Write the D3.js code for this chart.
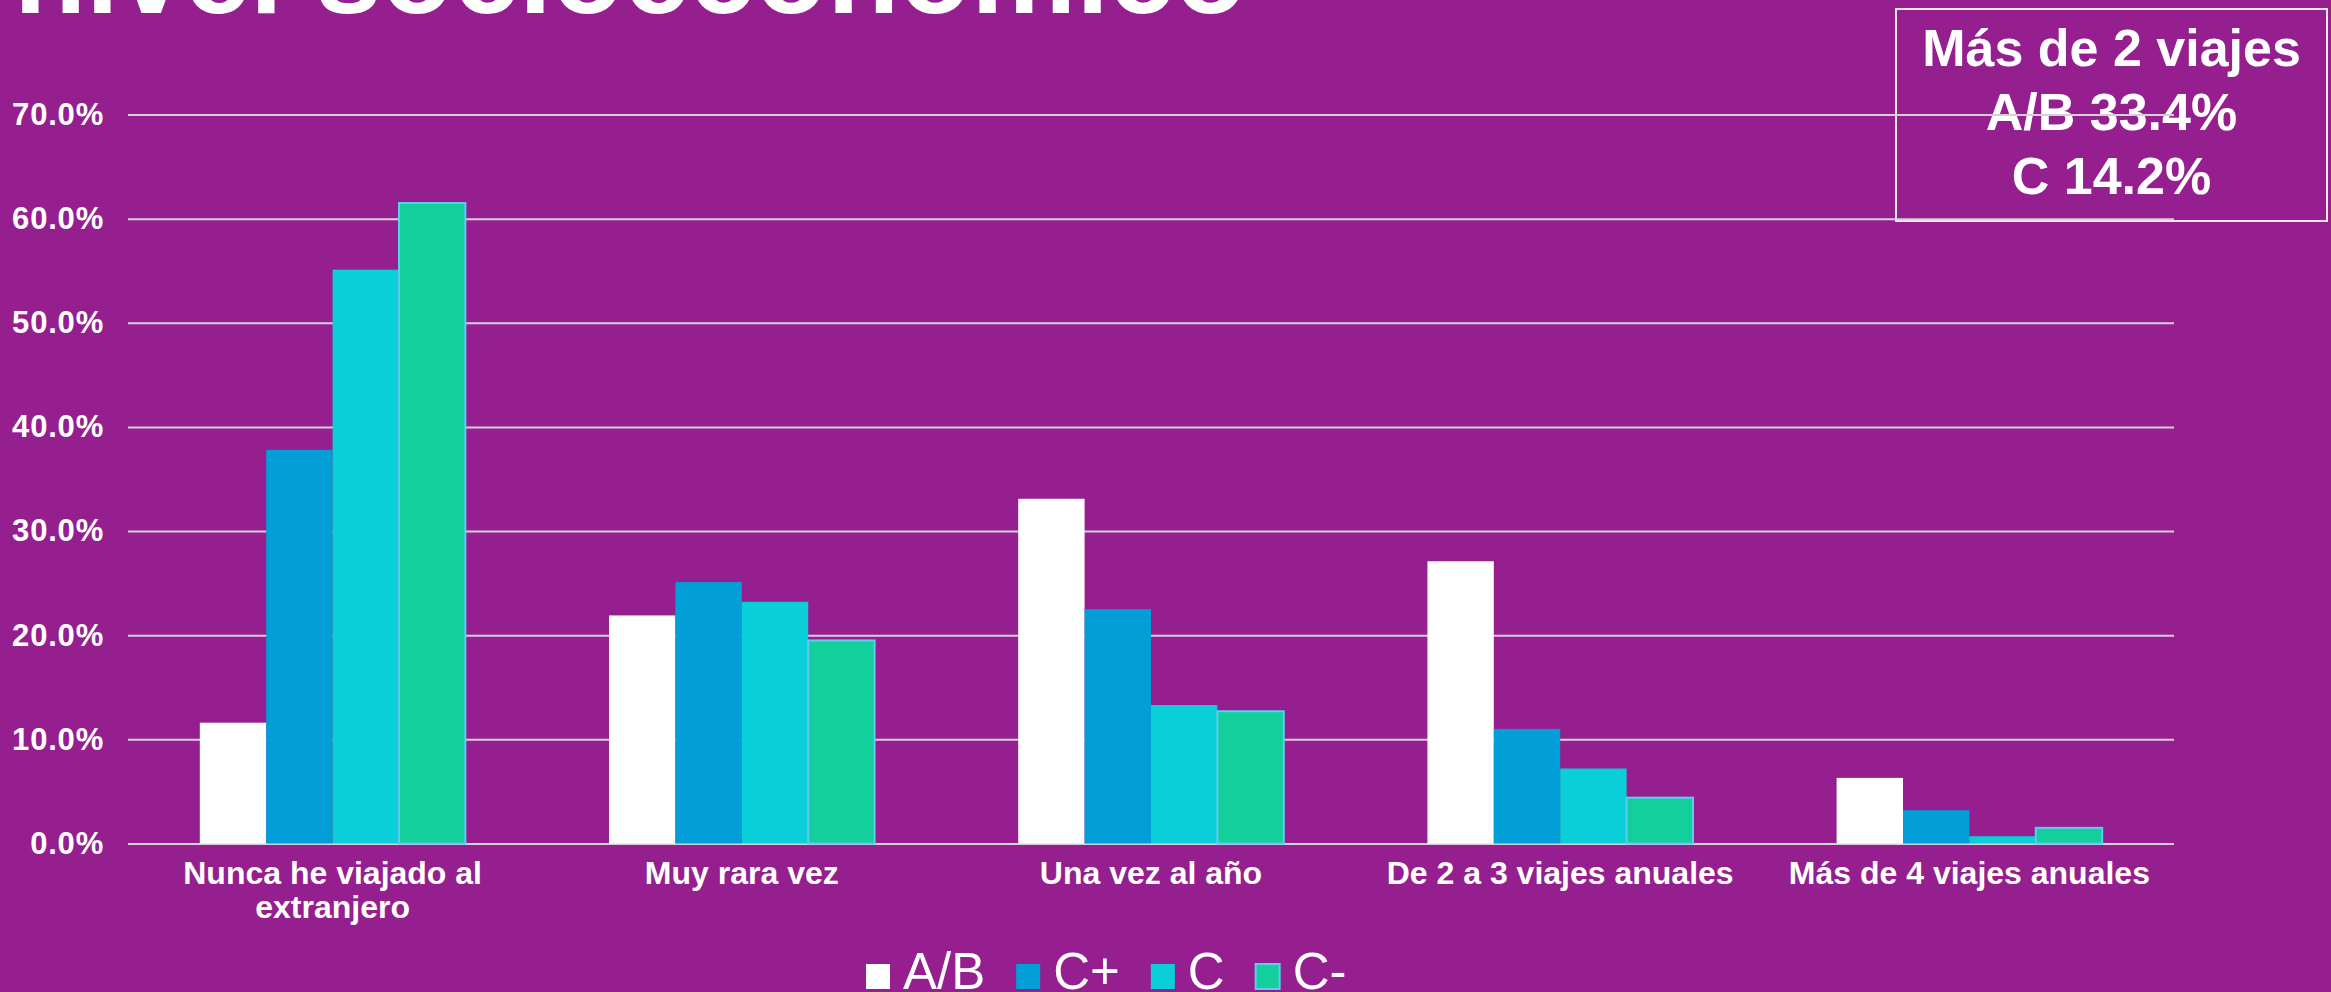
<!DOCTYPE html>
<html>
<head>
<meta charset="utf-8">
<script src="https://cdn.jsdelivr.net/npm/d3@7"></script>
<style>
  body { margin: 0; background: #951f8f; overflow: hidden; }
  svg { display: block; font-family: "Liberation Sans", Arial, sans-serif; }
</style>
</head>
<body>
<svg></svg>
<script>
var width = 2331;
var height = 992;

// chart data (percent)
var title = "nivel socioeconómico";
var categories = ["Nunca he viajado al\nextranjero", "Muy rara vez", "Una vez al año", "De 2 a 3 viajes anuales", "Más de 4 viajes anuales"];
var series = ["A/B", "C+", "C", "C-"];
var valuesAB = [11.6, 21.9, 33.1, 27.1, 6.3];
var valuesCplus = [37.8, 25.1, 22.5, 11.0, 3.2];
var valuesC = [55.1, 23.2, 13.3, 7.2, 0.7];
var valuesCminus = [61.5, 19.5, 12.7, 4.4, 1.5];
var yTicks = [0, 10, 20, 30, 40, 50, 60, 70];
var boxLines = ["Más de 2 viajes", "A/B 33.4%", "C 14.2%"];

var colors = ["#ffffff", "#019ed8", "#0bcfd8", "#12cf9b"];
var strokes = ["none", "none", "none", "#5ecbf2"];
var allValues = [valuesAB, valuesCplus, valuesC, valuesCminus];

var left = 128, right = 2174, y0 = 843.5, yTop = 114.5;

var svg = d3.select('svg')
  .attr('width', width)
  .attr('height', height);

// title, cut off at the top edge
svg.append('text')
  .attr('x', 14)
  .attr('y', 13)
  .attr('fill', '#fff')
  .attr('font-weight', 'bold')
  .attr('font-size', 118)
  .text(title);

// boxed note
var box = svg.append('g');
box.append('rect')
  .attr('x', 1896).attr('y', 9)
  .attr('width', 431).attr('height', 212)
  .attr('fill', 'none')
  .attr('stroke', '#efe6ef')
  .attr('stroke-width', 2);
box.selectAll('text')
  .data(boxLines)
  .enter().append('text')
  .attr('x', 2111.5)
  .attr('y', function(d, i){ return 66 + i*64; })
  .attr('text-anchor', 'middle')
  .attr('fill', '#fff')
  .attr('font-weight', 'bold')
  .attr('font-size', 52)
  .text(function(d){ return d; });

var y = d3.scaleLinear().domain([0, 70]).range([y0, yTop]);
var x = d3.scaleBand().domain(categories).range([left, right]).paddingInner(0.351).paddingOuter(0.1755);
var xs = d3.scaleBand().domain(series).range([0, x.bandwidth()]);

// y axis + gridlines
var yAxis = svg.append('g')
  .attr('transform', 'translate(' + left + ',0)')
  .call(d3.axisLeft(y).tickValues(yTicks).tickSize(-(right - left)).tickPadding(24)
    .tickFormat(function(d){ return d.toFixed(1) + '%'; }));
yAxis.select('.domain').remove();
yAxis.selectAll('line').attr('stroke', '#d6d0d6').attr('stroke-width', 2);
yAxis.selectAll('text')
  .attr('fill', '#fff')
  .attr('font-size', 31)
  .attr('font-weight', 'bold')
  .attr('letter-spacing', 0.8)
  .attr('font-family', '"Liberation Sans", Arial, sans-serif');

// bars
var groups = svg.selectAll('.grp')
  .data(categories)
  .enter().append('g')
  .attr('class', 'grp')
  .attr('transform', function(d){ return 'translate(' + x(d) + ',0)'; });

groups.selectAll('rect')
  .data(function(d, ci){
    return series.map(function(s, si){ return {s: s, si: si, v: allValues[si][ci]}; });
  })
  .enter().append('rect')
  .attr('x', function(d){ return xs(d.s); })
  .attr('y', function(d){ return y(d.v); })
  .attr('width', xs.bandwidth())
  .attr('height', function(d){ return y0 - y(d.v); })
  .attr('fill', function(d){ return colors[d.si]; })
  .attr('stroke', function(d){ return strokes[d.si]; })
  .attr('stroke-width', 2);

// x axis labels
var xAxis = svg.append('g')
  .attr('transform', 'translate(0,' + y0 + ')')
  .call(d3.axisBottom(x).tickSize(0));
xAxis.select('.domain').remove();
xAxis.selectAll('.tick text').each(function(d){
  var t = d3.select(this).text('').attr('y', 0).attr('dy', 0)
    .attr('fill', '#fff')
    .attr('font-size', 32)
    .attr('font-weight', 'bold')
    .attr('font-family', '"Liberation Sans", Arial, sans-serif');
  d.split('\n').forEach(function(line, i){
    t.append('tspan').attr('x', 0).attr('y', 40 + i*34).text(line);
  });
});

// legend
var legend = svg.append('g');
var lx = 866;
series.forEach(function(s, i){
  legend.append('rect')
    .attr('x', lx).attr('y', 964)
    .attr('width', 24).attr('height', 25)
    .attr('fill', colors[i])
    .attr('stroke', strokes[i])
    .attr('stroke-width', 2);
  var t = legend.append('text')
    .attr('x', lx + 37).attr('y', 989)
    .attr('fill', '#fff')
    .attr('font-size', 51)
    .text(s);
  lx = lx + 37 + t.node().getComputedTextLength() + 31;
});
</script>
</body>
</html>
